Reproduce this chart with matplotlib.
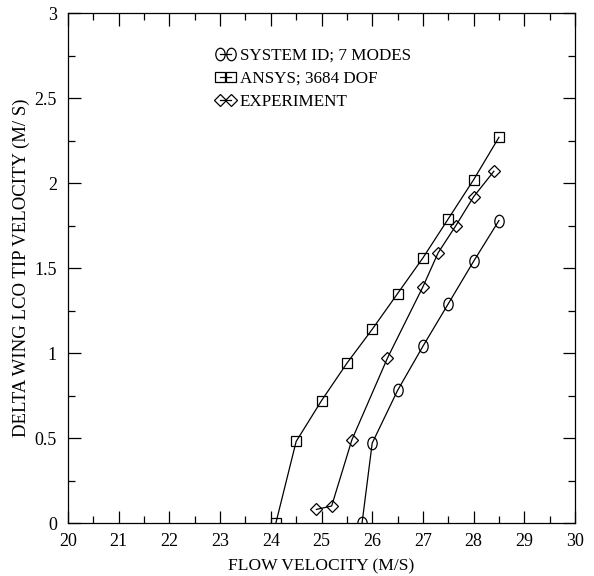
import matplotlib
matplotlib.use('Agg')
import matplotlib.pyplot as plt
from matplotlib.path import Path
from matplotlib.transforms import Affine2D
from matplotlib.ticker import MultipleLocator, FuncFormatter

plt.rcParams['font.family'] = ['Liberation Serif', 'DejaVu Serif']
plt.rcParams['font.size'] = 12

# LCO tip velocity vs flow velocity
sysid_flow = [25.8, 26.0, 26.5, 27.0, 27.5, 28.0, 28.5]
sysid_vel = [0.0, 0.47, 0.78, 1.04, 1.29, 1.54, 1.78]

ansys_flow = [24.1, 24.5, 25.0, 25.5, 26.0, 26.5, 27.0, 27.5, 28.0, 28.5]
ansys_vel = [0.0, 0.48, 0.72, 0.94, 1.14, 1.35, 1.56, 1.79, 2.02, 2.27]

exp_flow = [24.9, 25.2, 25.6, 26.3, 27.0, 27.3, 27.65, 28.0, 28.4]
exp_vel = [0.08, 0.10, 0.49, 0.97, 1.39, 1.59, 1.75, 1.92, 2.07]

labels = ['SYSTEM ID; 7 MODES', 'ANSYS; 3684 DOF', 'EXPERIMENT']

# slightly tall ellipse for the system id markers
ellipse = Path(Affine2D().scale(0.75, 1.0).transform(Path.unit_circle().vertices),
               Path.unit_circle().codes)

fig = plt.figure(figsize=(5.94, 5.76), dpi=100)
ax = fig.add_axes([0.1145, 0.092, 0.8535, 0.885])

style = dict(color='black', lw=0.9, mfc='none', mec='black', mew=0.9)
ax.plot(sysid_flow, sysid_vel, marker=ellipse, ms=9, label=labels[0], **style)
ax.plot(ansys_flow, ansys_vel, marker='s', ms=6.8, label=labels[1], **style)
ax.plot(exp_flow, exp_vel, marker='D', ms=6.2, label=labels[2], **style)

ax.set_xlim(20, 30)
ax.set_ylim(0, 3)
ax.xaxis.set_major_locator(MultipleLocator(1))
ax.xaxis.set_minor_locator(MultipleLocator(0.5))
ax.yaxis.set_major_locator(MultipleLocator(0.5))
ax.yaxis.set_minor_locator(MultipleLocator(0.25))
ax.yaxis.set_major_formatter(FuncFormatter(lambda v, p: f'{v:g}'))
ax.tick_params(which='both', direction='in', top=True, right=True, width=0.9)
ax.tick_params(which='major', length=9, labelsize=13)
ax.tick_params(axis='x', which='major', pad=7.5)
ax.tick_params(axis='y', which='major', pad=8)
ax.tick_params(which='minor', length=5)
for s in ax.spines.values():
    s.set_linewidth(0.9)

ax.set_xlabel('FLOW VELOCITY (M/S)', fontsize=12.6, labelpad=5.5)
ax.set_ylabel('DELTA WING LCO TIP VELOCITY (M/ S)', fontsize=13.5, labelpad=3.5)

ax.legend(loc='upper left', bbox_to_anchor=(0.277, 0.945), frameon=False,
          numpoints=2, handlelength=1.2, handletextpad=0.25, labelspacing=0.4,
          fontsize=12.3, borderaxespad=0)

fig.savefig('out.png', dpi=100)
